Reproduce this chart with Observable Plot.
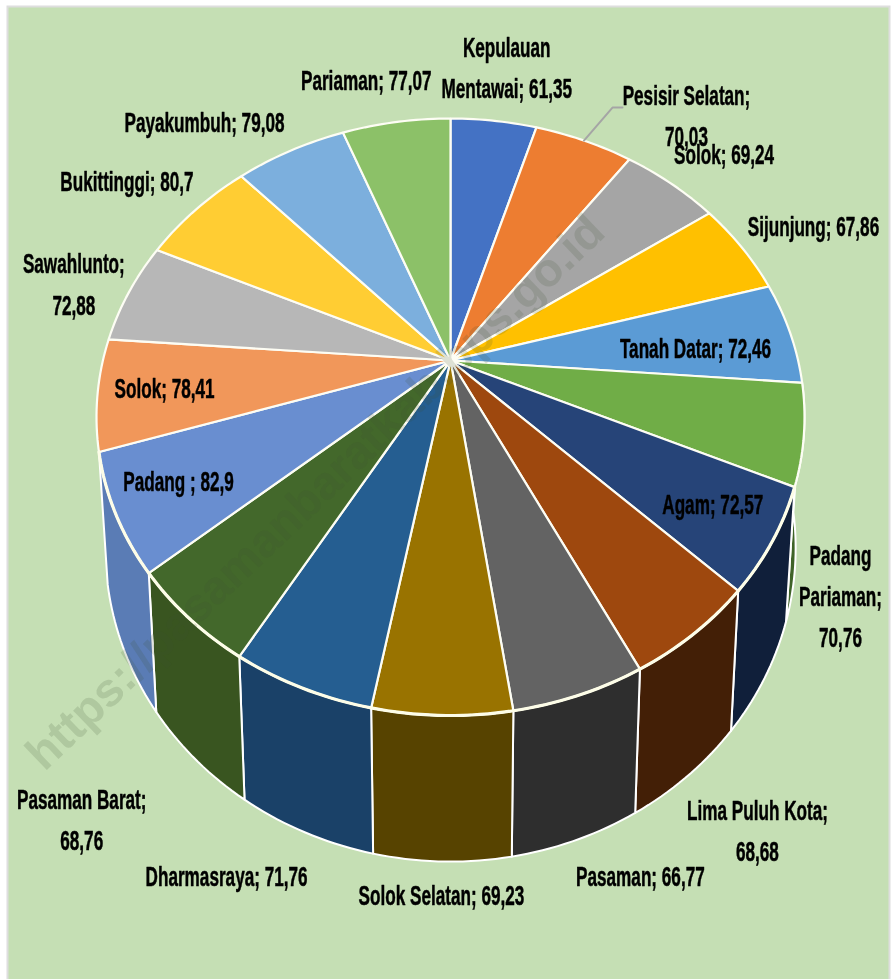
<!DOCTYPE html>
<html>
<head>
<meta charset="utf-8">
<script src="https://cdn.jsdelivr.net/npm/d3@7"></script>
<script src="https://cdn.jsdelivr.net/npm/@observablehq/plot@0.6"></script>
<style>
html,body{margin:0;padding:0;background:#fff}
svg{display:block;filter:blur(0.45px)}
</style>
</head>
<body>
<div id="chart"></div>
<script>
// Data, clockwise from twelve o'clock
const regions = ["Kepulauan\nMentawai","Pesisir Selatan;\n","Solok","Sijunjung","Tanah Datar","Padang\nPariaman;\n","Agam","Lima Puluh Kota;\n","Pasaman","Solok Selatan","Dharmasraya","Pasaman Barat;\n","Padang ","Solok","Sawahlunto;\n","Bukittinggi","Payakumbuh","Pariaman"];
const values = [61.35,70.03,69.24,67.86,72.46,70.76,72.57,68.68,66.77,69.23,71.76,68.76,82.9,78.41,72.88,80.7,79.08,77.07];
const topColors = ["#4472c4","#ed7d31","#a5a5a5","#ffc000","#5b9bd5","#70ad47","#264478","#9e480e","#636363","#997300","#255e91","#43682b","#698ed0","#f1975a","#b7b7b7","#ffcd33","#7cafdd","#8cc168"];
const wallColors = ["#2a4576","#8e4a1d","#636363","#997300","#375d80","#3f6328","#101f3a","#431f06","#2e2e2e","#574300","#1a4168","#395520","#5a7cb5","#915a36","#6e6e6e","#997b1f","#4a6985","#54743e"];
// Only these slices show their wall from this viewpoint
const frontSlices = [5,6,7,8,9,10,11,12];
// Label placement: pixel nudge from the rim at each slice's mid angle
const labelNudge = [[13,-51.5],[102.5,-23.5],[52.8,-28],[71.5,-20],[-94.6,17],[36.6,163.5],[-60,-35],[63.4,198.5],[61,182.5],[-0.6,181],[-75,190],[-107,203.5],[63,-31],[67,-4],[-55,-6.5],[-69,-27],[-86,-27],[-30,-40]];
const fmt = v => String(v).replace(".", ",");

// View of the pie: perspective tilt and the scale of the drawing
const W = 894, H = 979;
const cx = 450, cy = 360, sx = 347.6, sy = 287.8, tilt = 0.1893;
const baseShrink = 0.975, baseStretch = 1.05, baseDrop = 0.446;
const total = d3.sum(values);
const turn = v => v / total * 2 * Math.PI;
const proj = (a, r = 1) => { const u = r*Math.sin(a), v = r*Math.cos(a), w = 1 + tilt*v; return [u/w, v/w]; };
const base = ([X, Y]) => [X*baseShrink, Y*baseStretch - baseDrop];
const px = (dx, dy) => [dx/sx, -dy/sy];

let cum = 0;
const slices = values.map((v, i) => {
  const a0 = turn(cum); cum += v; const a1 = turn(cum);
  const steps = Math.ceil((a1 - a0) / 0.02);
  const arc = d3.range(steps + 1).map(k => proj(a0 + (a1 - a0)*k/steps));
  return {i, a0, a1, mid: (a0 + a1)/2, arc};
});

const topPts = slices.flatMap(s => [[0,0], ...s.arc, [0,0]].map(p => ({id:s.i, X:p[0], Y:p[1], color:topColors[s.i]})));
const wallPts = frontSlices.flatMap(i => {
  const s = slices[i], low = s.arc.map(base).reverse();
  return [...s.arc, ...low, s.arc[0]].map(p => ({id:s.i, X:p[0], Y:p[1], color:wallColors[s.i]}));
});
const rimPts = frontSlices.slice(1).flatMap(i => slices[i].arc).map(p => ({X:p[0], Y:p[1]}));
const labels = slices.map(s => {
  const [X, Y] = proj(s.mid), [ox, oy] = px(...labelNudge[s.i]);
  const name = regions[s.i];
  const text = name.endsWith("\n") ? name + fmt(values[s.i]) : name + "; " + fmt(values[s.i]);
  return {X: X + ox, Y: Y + oy, text};
});
// Leader line of the Pesisir Selatan label
const [lx, ly] = proj(slices[1].mid);
const leader = [[0,0],[28.5,-33],[38.5,-33]].map(([dx,dy]) => { const [ox,oy] = px(dx,dy); return {X:lx+ox, Y:ly+oy}; });

const [wmX, wmY] = px(-135, 132);
const labelFont = '"Liberation Sans Narrow","Liberation Sans",sans-serif';

const chart = Plot.plot({
  width: W, height: H, margin: 0,
  x: {axis: null, domain: [-cx/sx, (W-cx)/sx], range: [0, W]},
  y: {axis: null, domain: [cy/sy, (cy-H)/sy], range: [0, H]},
  color: {type: "identity"},
  style: {background: "#fff"},
  marks: [
    Plot.frame({fill: "#c5dfb4", stroke: "#dedede", strokeWidth: 2, insetLeft: 7, insetTop: 6, insetRight: 5, insetBottom: -4}),
    Plot.line(wallPts, {x: "X", y: "Y", z: "id", fill: "color", stroke: "#fff", strokeWidth: 2, strokeLinejoin: "round"}),
    Plot.line(topPts, {x: "X", y: "Y", z: "id", fill: "color", stroke: "#fdfdf4", strokeWidth: 2.2, strokeLinejoin: "bevel"}),
    Plot.line(rimPts, {x: "X", y: "Y", stroke: "#fdfde8", strokeWidth: 3.2}),
    Plot.text(["https://pasamanbaratkab.bps.go.id"], {x: () => wmX, y: () => wmY, text: d => d, rotate: -43.7, fontSize: 47, fontWeight: "bold", fontFamily: '"Liberation Sans",sans-serif', fill: "#405030", fillOpacity: 0.16}),
    Plot.line(leader, {x: "X", y: "Y", stroke: "#a5a5a5", strokeWidth: 2}),
    Plot.text(labels, {x: "X", y: "Y", dy: -5, text: "text", className: "lab", fontSize: 27, fontWeight: "bold", fontFamily: labelFont, fill: "#000", stroke: "#000", strokeWidth: 0.5, lineHeight: 1.52, lineAnchor: "middle", textAnchor: "middle"})
  ]
});
document.getElementById("chart").append(chart);
// Labels in the reference are more condensed than any installed face
chart.querySelectorAll(".lab text").forEach(t => {
  const tr = t.getAttribute("transform") || "";
  t.setAttribute("transform", tr + " scale(0.635,1)");
});
</script>
</body>
</html>
